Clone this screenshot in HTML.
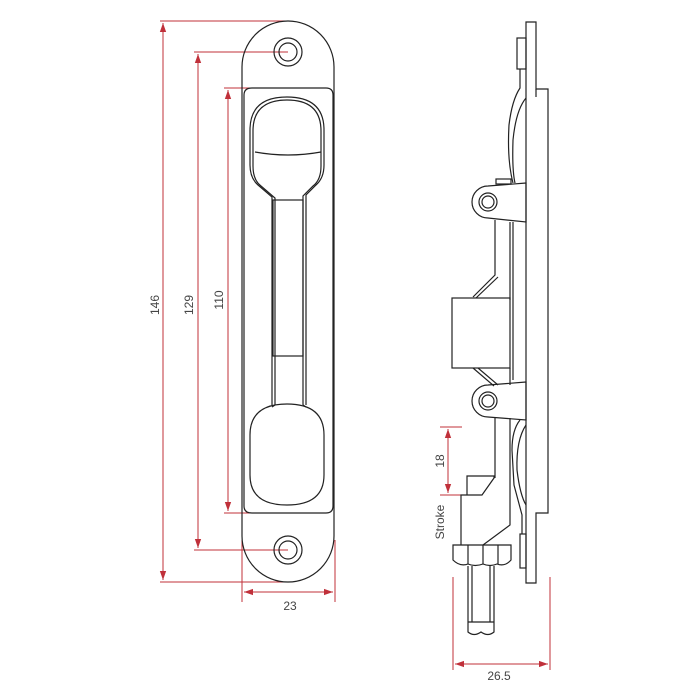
<!DOCTYPE html>
<html><head><meta charset="utf-8"><style>
html,body{margin:0;padding:0;background:#fff;}
svg{display:block;}
text{font-family:"Liberation Sans",sans-serif;font-size:12px;fill:#444;}
</style></head><body>
<svg width="700" height="700" viewBox="0 0 700 700" xmlns="http://www.w3.org/2000/svg">
<defs>
<marker id="a" viewBox="0 0 10 10" refX="10" refY="5" markerWidth="9" markerHeight="9" markerUnits="userSpaceOnUse" orient="auto-start-reverse"><path d="M0,1.5 L10,5 L0,8.5 Z" fill="#c0303a"/></marker>
</defs>
<g fill="none" stroke="#c0303a" stroke-width="1">
<line x1="160" y1="21" x2="288" y2="21"/><line x1="160" y1="582" x2="288" y2="582"/>
<line x1="163" y1="23" x2="163" y2="580" marker-start="url(#a)" marker-end="url(#a)"/>
<line x1="194" y1="52" x2="288" y2="52"/><line x1="194" y1="550" x2="288" y2="550"/>
<line x1="198" y1="54" x2="198" y2="548" marker-start="url(#a)" marker-end="url(#a)"/>
<line x1="224" y1="88" x2="290" y2="88"/><line x1="224" y1="513" x2="290" y2="513"/>
<line x1="228" y1="90" x2="228" y2="511" marker-start="url(#a)" marker-end="url(#a)"/>
<line x1="242" y1="540" x2="242" y2="602"/><line x1="335" y1="540" x2="335" y2="602"/>
<line x1="244" y1="592" x2="333" y2="592" marker-start="url(#a)" marker-end="url(#a)"/>
<line x1="440" y1="427" x2="462" y2="427"/><line x1="440" y1="495" x2="462" y2="495"/>
<line x1="448" y1="429" x2="448" y2="493" marker-start="url(#a)" marker-end="url(#a)"/>
<line x1="453" y1="577" x2="453" y2="670"/><line x1="550" y1="577" x2="550" y2="670"/>
<line x1="455" y1="664" x2="548" y2="664" marker-start="url(#a)" marker-end="url(#a)"/>
</g>
<text transform="translate(159,305) rotate(-90)" text-anchor="middle">146</text>
<text transform="translate(193,305) rotate(-90)" text-anchor="middle">129</text>
<text transform="translate(223,300) rotate(-90)" text-anchor="middle">110</text>
<text x="290" y="610" text-anchor="middle">23</text>
<text transform="translate(444,461) rotate(-90)" text-anchor="middle">18</text>
<text transform="translate(444,522) rotate(-90)" text-anchor="middle">Stroke</text>
<text x="499" y="680" text-anchor="middle">26.5</text>

<g fill="none" stroke="#222" stroke-width="1.2">
<path d="M242,67 A46,46 0 0 1 334,67 L334,536 A46,46 0 0 1 242,536 Z"/>
<path d="M244,95 Q244,88 252,88 L326,88 Q333,88 333,95 L333,506 Q333,513 326,513 L252,513 Q244,513 244,506 Z"/>
<circle cx="288" cy="52" r="14"/><circle cx="288" cy="52" r="9"/>
<circle cx="288" cy="550" r="14"/><circle cx="288" cy="550" r="9"/>
<path d="M272,405 L272,197 L258,185 Q250,178 250,165 L250,130 Q250,97 287,97 Q324,97 324,130 L324,165 Q324,178 316,185 L306,195 L306,405"/>
<path d="M275,405 L275,198 L261,186 Q253,180 253,166 L253,131 Q253,100 287,100 Q321,100 321,131 L321,166 Q321,180 313,186 L303,196 L303,405"/>
<path d="M255,152 Q288,158 321,152"/>
<rect x="273" y="200" width="30" height="156"/>
<path d="M250,435 Q250,404 287,404 Q324,404 324,435 L324,475 Q324,505 287,505 Q250,505 250,475 Z"/>
<path d="M272,407 L275,405 M306,407 L303,405"/>

<path d="M526,22 L536,22 L536,89 L548,89 L548,513 L536,513 L536,583 L526,583 Z"/>
<line x1="536" y1="89" x2="536" y2="97"/>
<rect x="517" y="38" width="9" height="31"/>
<path d="M520,69 L520,88 Q512,100 509,125 Q507,160 513,183"/>
<path d="M526,98 Q516,110 513,140 Q512,170 515,183"/>
<path d="M526,183 L488,186 A16,16 0 0 0 488,218 L526,222 Z"/>
<circle cx="488" cy="202" r="9"/><circle cx="488" cy="202" r="6"/>
<rect x="496" y="179" width="15" height="5"/>
<path d="M495,220 L495,275 L473,297 M498,277 L476,298"/>
<line x1="510" y1="222" x2="510" y2="300"/><line x1="513" y1="222" x2="513" y2="380"/>
<rect x="452" y="298" width="58" height="70"/>
<path d="M473,368 L494,386 M478,368 L498,385"/>
<line x1="510" y1="368" x2="510" y2="385"/>
<path d="M526,382 L488,385 A16,16 0 0 0 488,417 L526,420 Z"/>
<circle cx="488" cy="401" r="9"/><circle cx="488" cy="401" r="6"/>
<path d="M495,418 L495,478"/>
<path d="M510,418 L510,525 L483,545"/>
<path d="M520,420 Q512,430 512,450 L514,485 L522,515 L522,534"/>
<path d="M526,425 Q516,440 517,470 Q520,495 526,505"/>
<path d="M461,545 L461,495 L482,495 L494,478 L494,476 L467,476 L467,495"/>
<rect x="520" y="534" width="6" height="34"/>
<path d="M453,545 L511,545 L511,560 Q505,567 497,564 Q490,567 483,564 Q475,567 468,564 Q460,567 453,560 Z"/>
<line x1="468" y1="545" x2="468" y2="564"/><line x1="483" y1="545" x2="483" y2="564"/><line x1="498" y1="545" x2="498" y2="564"/>
<path d="M468,566 L468,632 Q474,637 481,632 Q488,637 494,632 L494,566"/>
<line x1="472" y1="566" x2="472" y2="622"/><line x1="490" y1="566" x2="490" y2="622"/>
<line x1="468" y1="622" x2="494" y2="622"/>
</g>
</svg>
</body></html>
